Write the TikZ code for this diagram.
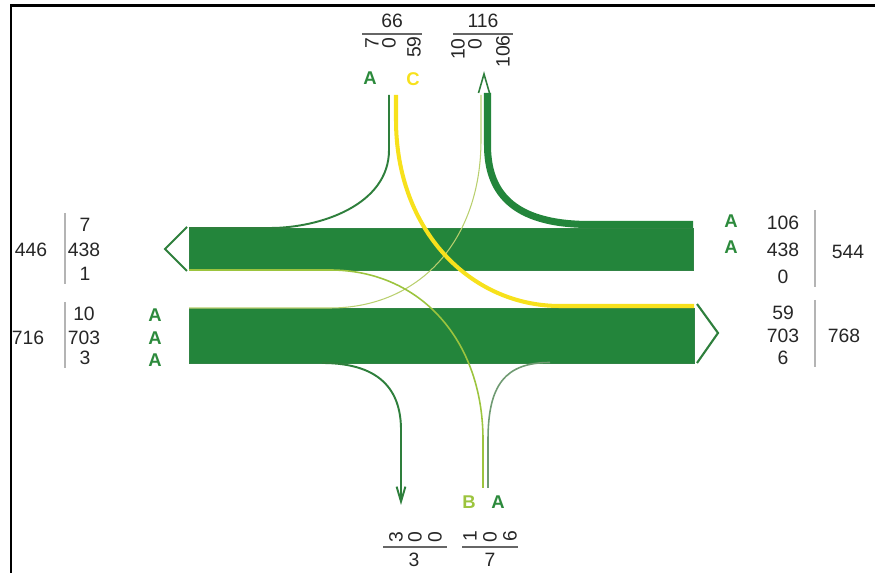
\documentclass[tikz,border=0pt]{standalone}
\usepackage{fontspec}
\setmainfont{Liberation Sans}
\usepackage{tikz}
\usetikzlibrary{arrows.meta}

\definecolor{bargreen}{HTML}{23853B}
\definecolor{darkflow}{HTML}{2E7F3C}
\definecolor{lblgreen}{HTML}{2C8A3C}
\definecolor{limeflow}{HTML}{9CC43E}
\definecolor{paleflow}{HTML}{B9CF6E}
\definecolor{greyflow}{HTML}{6F9A72}
\definecolor{yellowflow}{HTML}{F7E11C}
\definecolor{sepgray}{HTML}{B4B4B4}

\begin{document}
\begin{tikzpicture}[x=0.02cm, y=-0.02cm,
			num/.style={font=\fontsize{11}{13}\selectfont, text=black!85, inner sep=0pt},
			vnum/.style={num, rotate=90, anchor=east},
			lane/.style={font=\fontsize{10.5}{12}\selectfont\bfseries, inner sep=0pt},
			sep/.style={draw=sepgray, line width=0.6pt},
			bar/.style={fill=bargreen, draw=bargreen!85!gray, line width=0.3pt},
			flow/.style={line cap=butt},
			chev/.style={draw=darkflow, line width=1.2pt, line join=miter}]
			
			\useasboundingbox (0,0) rectangle (875,573);
			\draw[line width=1.7pt] (10,5.5) -- (875,5.5);
			\draw[line width=1.2pt] (11,5) -- (11,573);
			
			\draw[bar] (189,228) rectangle (693,270);
			\draw[bar] (189,308) rectangle (694,363);
			\draw[chev] (187,227) -- (165,249) -- (187,271);
			\draw[chev] (697,304) -- (718,333) -- (697,363);
			\draw[chev, line width=0.9pt] (478.5,93) -- (484,74) -- (489.5,93);
			
			\coordinate (inA) at (389,95);
			\coordinate (inC) at (396,95);
			\coordinate (out106) at (487.5,93);
			\coordinate (out10) at (481,95);
			\coordinate (inB) at (483,488);
			\coordinate (inAs) at (488,488);
			\coordinate (out3) at (401,505);
			
			\draw[flow, darkflow, line width=1.1pt] (inA) -- (389,150) .. controls (389,205) and (320,228) .. (270,228) -- (189,228);
			\draw[flow, bargreen, line width=4pt] (out106) -- (487.5,145) .. controls (487.5,190) and (510,224.5) .. (590,224.5) -- (693,224.5);
			\draw[flow, paleflow, line width=0.6pt] (out10) -- (481,140) .. controls (481,240) and (420,308) .. (330,308) -- (189,308);
			\draw[flow, limeflow, line width=0.9pt] (inB) -- (483,440) .. controls (483,340) and (420,270) .. (330,270) -- (189,270);
			\draw[flow, greyflow, line width=0.9pt] (inAs) -- (488,440) .. controls (488,385) and (505,362.5) .. (550,362.5);
			\draw[flow, darkflow, line width=1.1pt, -{Straight Barb[length=8.5pt,width=5pt]}] (322,363) .. controls (385,363) and (401,395) .. (401,430) -- (out3);
			\draw[flow, yellowflow, line width=2.3pt] (inC) -- (396,120) .. controls (396,230) and (470,306) .. (560,306) -- (694,306);
			
			\node[num] (w446) at (31,250) {446};
			\draw[sep] (65,213) -- (65,284);
			\node[num] (w7) at (85,225) {7};
			\node[num] (w438) at (84,250) {438};
			\node[num] (w1) at (85,274) {1};
			\node[num] (w716) at (28,338) {716};
			\draw[sep] (65,302) -- (65,368);
			\node[num] (w10) at (84,314) {10};
			\node[num] (w703) at (84,338) {703};
			\node[num] (w3) at (85,358) {3};
			\node[lane, lblgreen] (wA1) at (155,315) {A};
			\node[lane, lblgreen] (wA2) at (155,338) {A};
			\node[lane, lblgreen] (wA3) at (155,360) {A};
			
			\node[lane, lblgreen] (eA1) at (731,221) {A};
			\node[lane, lblgreen] (eA2) at (731,247) {A};
			\node[num] (e106) at (783,223) {106};
			\node[num] (e438) at (783,250) {438};
			\node[num] (e0) at (783,277) {0};
			\draw[sep] (815,210) -- (815,287);
			\node[num] (e544) at (848,252) {544};
			\node[num] (e59) at (783,313) {59};
			\node[num] (e703) at (783,336) {703};
			\node[num] (e6) at (783,358) {6};
			\draw[sep] (815,300) -- (815,367);
			\node[num] (e768) at (844,336) {768};
			
			\node[num] (n66) at (392,21) {66};
			\draw[sep, draw=black!60] (362,34) -- (422,34);
			\node[vnum] (n7) at (372,37) {7};
			\node[vnum] (n0a) at (389,37) {0};
			\node[vnum] (n59) at (414,36) {59};
			\node[num] (n116) at (483,21) {116};
			\draw[sep, draw=black!60] (453,34) -- (513,34);
			\node[vnum] (n10) at (458,38) {10};
			\node[vnum] (n0b) at (475,38) {0};
			\node[vnum] (n106) at (503,35) {106};
			\node[lane, lblgreen] (nA) at (370,78) {A};
			\node[lane, yellowflow] (nC) at (413,79) {C};
			
			\node[lane, limeflow] (sB) at (469,502) {B};
			\node[lane, lblgreen] (sA) at (498,502) {A};
			\node[num, rotate=90] (s3) at (396,537) {3};
			\node[num, rotate=90] (s0a) at (415,537) {0};
			\node[num, rotate=90] (s0b) at (435,537) {0};
			\draw[sep, draw=black!60] (383,547) -- (447,547);
			\node[num] (st3) at (414,560) {3};
			\node[num, rotate=90] (s1) at (470,536) {1};
			\node[num, rotate=90] (s0c) at (490,537) {0};
			\node[num, rotate=90] (s6) at (510,536) {6};
			\draw[sep, draw=black!60] (462,547) -- (518,547);
			\node[num] (st7) at (490,560) {7};
			
		\end{tikzpicture}
\end{document}
